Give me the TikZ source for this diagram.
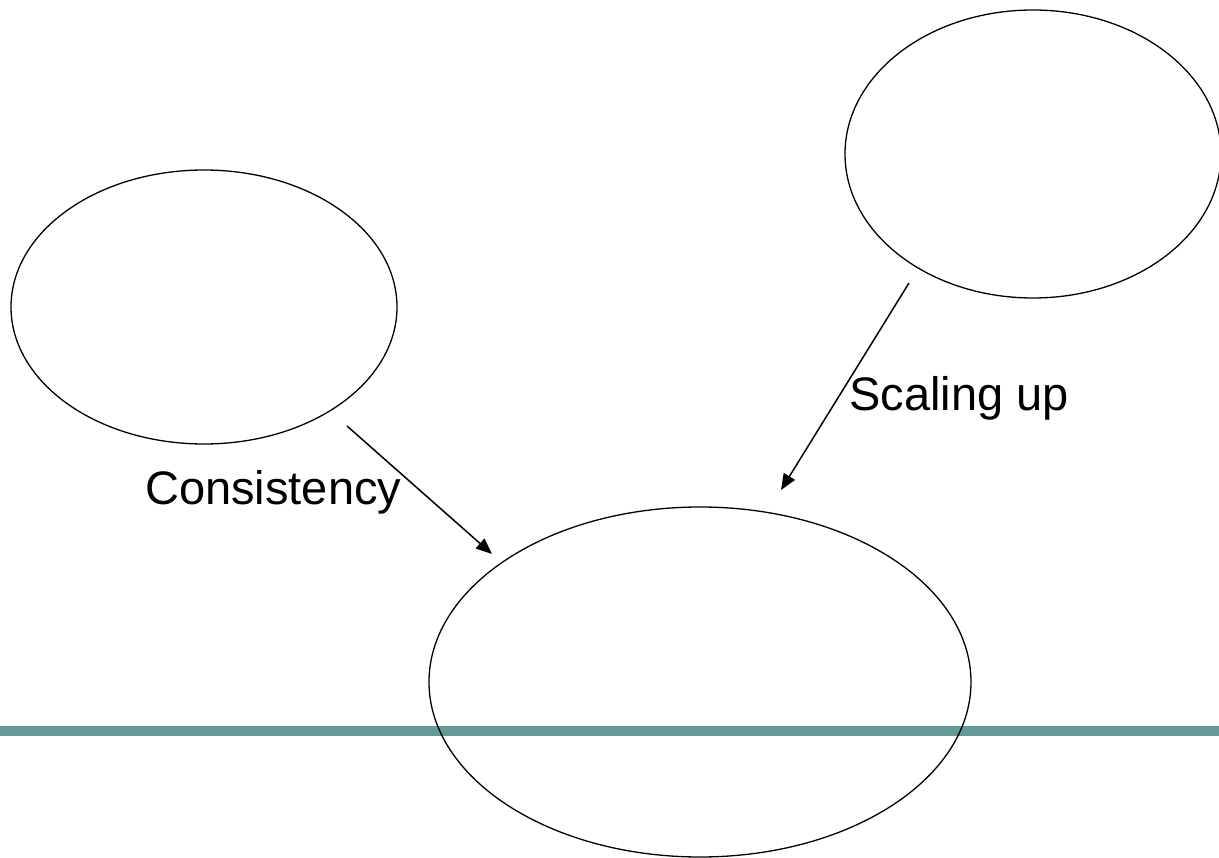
\documentclass[tikz,border=0pt]{standalone}
\usepackage{fontspec}
\setmainfont{Liberation Sans}
\usetikzlibrary{arrows.meta,shapes.geometric}
\definecolor{rule}{RGB}{101,154,150}
\begin{document}
\begin{tikzpicture}[x=1pt,y=-1pt,
  blob/.style={draw=black,line width=1.3pt,ellipse,inner sep=0pt},
  link/.style={draw=black,line width=1.5pt,-{Triangle[length=16pt,width=13pt]}},
  lbl/.style={font=\fontsize{47}{51}\selectfont,inner sep=0pt,anchor=west}]
\useasboundingbox (0,0) rectangle (1219,858);
% horizontal accent rule
\fill[rule] (0,726) rectangle (1219,736);
% ellipses
\node[blob,minimum width=386pt,minimum height=274pt] (left) at (204,307) {};
\node[blob,minimum width=376pt,minimum height=288pt] (top) at (1033,154) {};
\node[blob,minimum width=542pt,minimum height=350pt] (bottom) at (700,682) {};
% connector end points
\coordinate (c1) at (347,426);
\coordinate (c2) at (492,554);
\coordinate (s1) at (909,283);
\coordinate (s2) at (781,490);
\draw[link] (c1) -- (c2);
\draw[link] (s1) -- (s2);
% labels
\node[lbl] (cons) at (145,492) {Consistency};
\node[lbl] (scal) at (849,398) {Scaling up};
\end{tikzpicture}
\end{document}
